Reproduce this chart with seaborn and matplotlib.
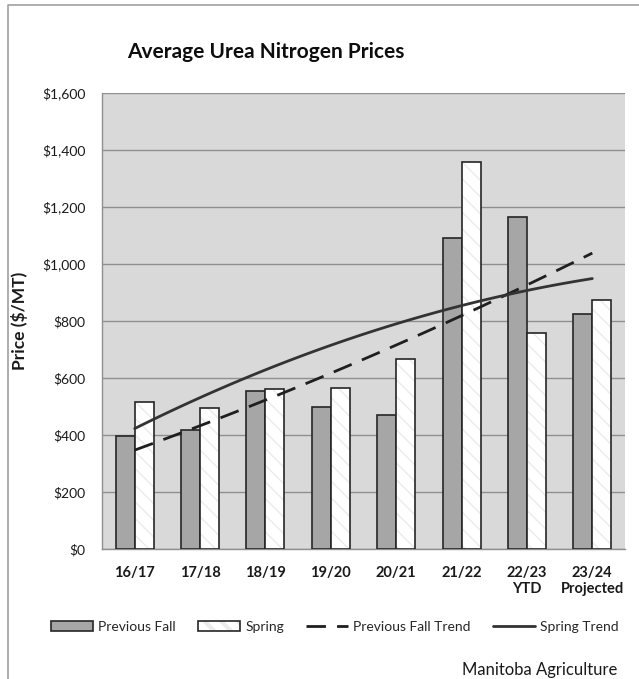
import numpy as np
import pandas as pd
import seaborn as sns
import matplotlib.pyplot as plt
from matplotlib.patches import Patch, Rectangle
from matplotlib.lines import Line2D
from matplotlib.legend_handler import HandlerTuple
from matplotlib.ticker import StrMethodFormatter

# data
seasons = ["16/17", "17/18", "18/19", "19/20", "20/21", "21/22", "22/23\nYTD", "23/24\nProjected"]
prev_fall = [398, 419, 553, 499, 470, 1090, 1164, 825]
spring = [517, 494, 562, 566, 666, 1359, 759, 874]

df = pd.DataFrame({
    "season": seasons * 2,
    "price": prev_fall + spring,
    "series": ["Previous Fall"] * len(seasons) + ["Spring"] * len(seasons),
})

sns.set_theme(style="white")
plt.rcParams['font.family'] = ['Lato', 'DejaVu Sans']

fig = plt.figure(figsize=(6.39, 6.79), dpi=100)
ax = fig.add_axes([102 / 639, 1 - 549 / 679, 523 / 639, 456 / 679])
ax.set_facecolor("#d9d9d9")

sns.barplot(data=df, x="season", y="price", hue="series", ax=ax,
            palette={"Previous Fall": "#a6a6a6", "Spring": "white"},
            width=0.58, edgecolor="#262626", linewidth=1.2, legend=False,
            zorder=3)

# spring bars: light diagonal hatch + dark outline on top
plt.rcParams['hatch.linewidth'] = 3.0
n = len(seasons)
for p in ax.patches[n:2 * n]:
    p.set_hatch("\\\\")
    p.set_edgecolor("#ebebeb")
    p.set_linewidth(0)
    ax.add_patch(Rectangle((p.get_x(), p.get_y()), p.get_width(), p.get_height(),
                           fill=False, edgecolor="#262626", linewidth=1.2, zorder=4))

# polynomial (order 2) trend lines, like Excel
x = np.arange(n)
xs = np.linspace(0, n - 1, 100)
fall_fit = np.polyval(np.polyfit(x, prev_fall, 2), xs)
spring_fit = np.polyval(np.polyfit(x, spring, 2), xs)
ax.plot(xs, fall_fit, color="#1f1f1f", lw=2, dashes=(7, 4), zorder=5)
ax.plot(xs, spring_fit, color="#333333", lw=2, zorder=5)

ax.set_ylim(0, 1600)
ax.set_xlim(-0.5, n - 0.5)
ax.set_yticks(range(0, 1601, 200))
ax.yaxis.set_major_formatter(StrMethodFormatter("${x:,.0f}"))
ax.yaxis.grid(True, color="#8f8f8f", linewidth=1, zorder=0)
ax.set_axisbelow(True)
ax.tick_params(axis="y", length=0, pad=12, labelsize=10, labelcolor="#1a1a1a")
ax.tick_params(axis="x", length=0, pad=12, labelsize=10.5, labelcolor="#1a1a1a")
for lbl in ax.get_xticklabels():
    lbl.set_fontweight("bold")
for side in ["top", "right"]:
    ax.spines[side].set_visible(False)
for side in ["left", "bottom"]:
    ax.spines[side].set_color("#8f8f8f")
    ax.spines[side].set_linewidth(1)

ax.set_xlabel("")
ax.set_ylabel("Price ($/MT)", fontsize=12.5, fontweight="bold", color="#1a1a1a")
ax.yaxis.set_label_coords(-0.142, 0.5)

fig.text(266 / 639, 1 - 52 / 679, "Average Urea Nitrogen Prices",
         ha="center", va="center", fontsize=15, fontweight="bold", color="#0d0d0d")

handles = [
    Patch(facecolor="#a6a6a6", edgecolor="#262626", linewidth=1.2),
    (Patch(facecolor="white", edgecolor="#ebebeb", hatch="\\\\", linewidth=0),
     Patch(facecolor="none", edgecolor="#262626", linewidth=1.2)),
    Line2D([], [], color="#1f1f1f", lw=2, dashes=(7, 4)),
    Line2D([], [], color="#333333", lw=2),
]
labels = ["Previous Fall", "Spring", "Previous Fall Trend", "Spring Trend"]
fig.legend(handles, labels, loc="center", bbox_to_anchor=(335 / 639, 1 - 627 / 679),
           ncol=4, frameon=False, fontsize=10, handlelength=3.0, handletextpad=0.4,
           columnspacing=1.6, handler_map={tuple: HandlerTuple(ndivide=1)})

fig.text(617 / 639, 1 - 670 / 679, "Manitoba Agriculture", ha="right", va="center",
         fontsize=12, color="#1a1a1a")

# chart border (left and top edges visible)
fig.add_artist(Line2D([8 / 639, 8 / 639, 1], [0, 1 - 5 / 679, 1 - 5 / 679],
                      transform=fig.transFigure, color="#a0a0a0", lw=1.2))

fig.savefig("out.png", dpi=100)
